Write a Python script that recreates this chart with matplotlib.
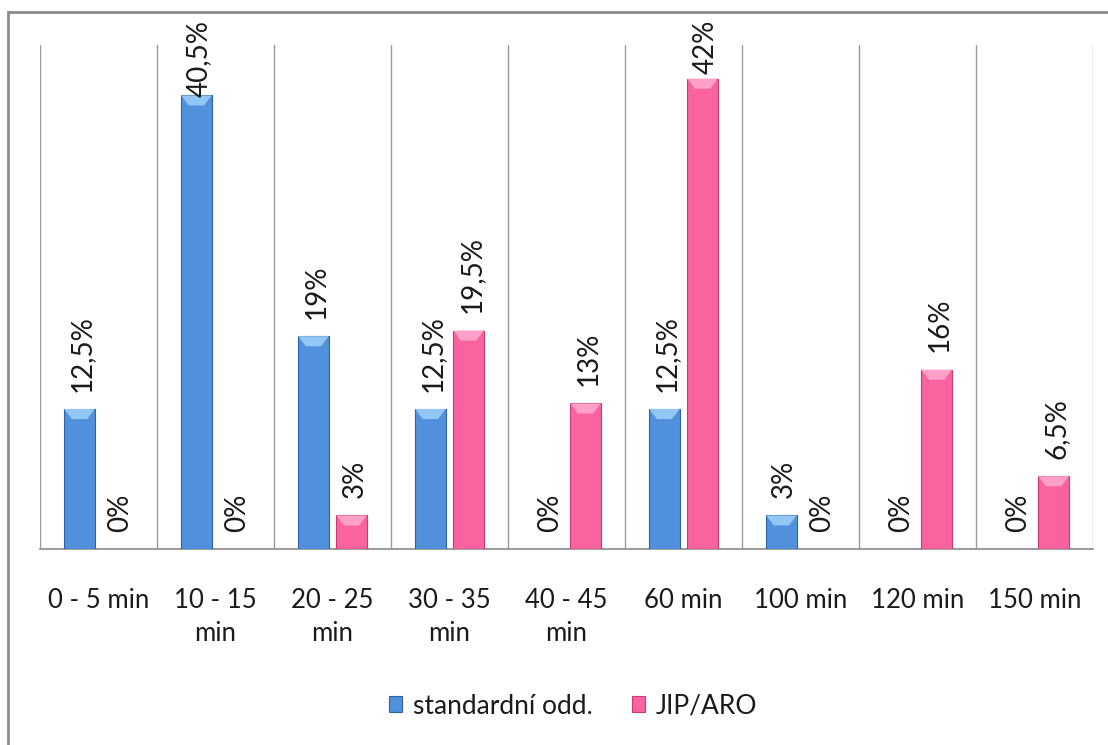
import numpy as np
import matplotlib
matplotlib.use("Agg")
from matplotlib import pyplot as plt
from matplotlib.patches import Polygon, Rectangle

plt.rcParams['font.family'] = ['Lato', 'DejaVu Sans']

categories = ["0 - 5 min", "10 - 15\nmin", "20 - 25\nmin", "30 - 35\nmin", "40 - 45\nmin",
              "60 min", "100 min", "120 min", "150 min"]
standard = [12.5, 40.5, 19, 12.5, 0, 12.5, 3, 0, 0]
jip_aro = [0, 0, 3, 19.5, 13, 42, 0, 16, 6.5]
series_names = ["standardní odd.", "JIP/ARO"]

colors = ["#5190dc", "#fb62a0"]
edge_colors = ["#2f62a8", "#c83c74"]
cap_colors = ["#92c6f4", "#ffa0c8"]


def fmt(v):
    s = ("%g" % v).replace(".", ",")
    return s + "%"


W, H = 1108, 745
fig = plt.figure(figsize=(W / 100, H / 100), dpi=100)
ax = fig.add_axes([40 / W, 1 - 549 / H, 1053 / W, 504 / H])

x = np.arange(len(categories))
width = 0.26
offsets = [-0.163, 0.163]
ymax = 45.0

labels = []
for k, vals in enumerate([standard, jip_aro]):
    bars = ax.bar(x + offsets[k], vals, width, color=colors[k], edgecolor=edge_colors[k],
                  linewidth=0.8, zorder=3, label=series_names[k])
    for b, v in zip(bars, vals):
        bx, bw, bh = b.get_x(), b.get_width(), b.get_height()
        if bh > 0:
            # bevelled top face of the bar
            cap = min(bh, 0.9)
            ax.add_patch(Polygon([(bx, bh), (bx + bw, bh), (bx + bw * 0.75, bh - cap),
                                  (bx + bw * 0.25, bh - cap)], closed=True,
                                 facecolor=cap_colors[k], edgecolor='none', zorder=4))
            # soft drop shadow on the right
            ax.add_patch(Rectangle((bx + bw, 0), 0.012, bh - 0.3, facecolor="#d8d8d8",
                                   edgecolor='none', zorder=2))
        t = ax.annotate(fmt(v), (bx + bw / 2, bh), xytext=(2, 12.5), textcoords='offset points',
                        rotation=90, ha='center', va='bottom', fontsize=20, color="#1a1a1a",
                        zorder=5, annotation_clip=False)
        labels.append(t)

ax.set_xlim(-0.5, len(categories) - 0.5)
ax.set_ylim(0, ymax)
ax.set_yticks([])
ax.set_xticks(x)
ax.set_xticklabels(categories, fontsize=18.5, color="#1a1a1a", linespacing=1.42)
ax.tick_params(axis='x', length=0, pad=28)
for i in range(len(categories) + 1):
    ax.axvline(i - 0.5, color="#9a9a9a", linewidth=1.0, zorder=1)
for side in ["top", "right", "left"]:
    ax.spines[side].set_visible(False)
ax.spines["bottom"].set_color("#8a8a8a")
ax.spines["bottom"].set_linewidth(1.2)

leg = fig.legend(loc='center', bbox_to_anchor=(573 / W, 1 - 706 / H), ncol=2,
                 frameon=False, fontsize=19, handlelength=0.5, handleheight=0.55,
                 handletextpad=0.4, columnspacing=1.5)
for t in leg.get_texts():
    t.set_color("#1a1a1a")

# chart frame (runs off the right and bottom edges)
fig.add_artist(Rectangle((8 / W, -0.05), 1.2, 1 - 12 / H + 0.05, transform=fig.transFigure,
                         fill=False, edgecolor="#8c8c8c", linewidth=2.0))

# keep data labels inside the chart frame
fig.canvas.draw()
renderer = fig.canvas.get_renderer()
top_limit = H - 20
for t in labels:
    ext = t.get_window_extent(renderer)
    if ext.y1 > top_limit:
        dx, dy = t.xyann
        t.xyann = (dx, dy - (ext.y1 - top_limit) * 72 / 100)

fig.savefig("out.png", dpi=100, facecolor="white")
